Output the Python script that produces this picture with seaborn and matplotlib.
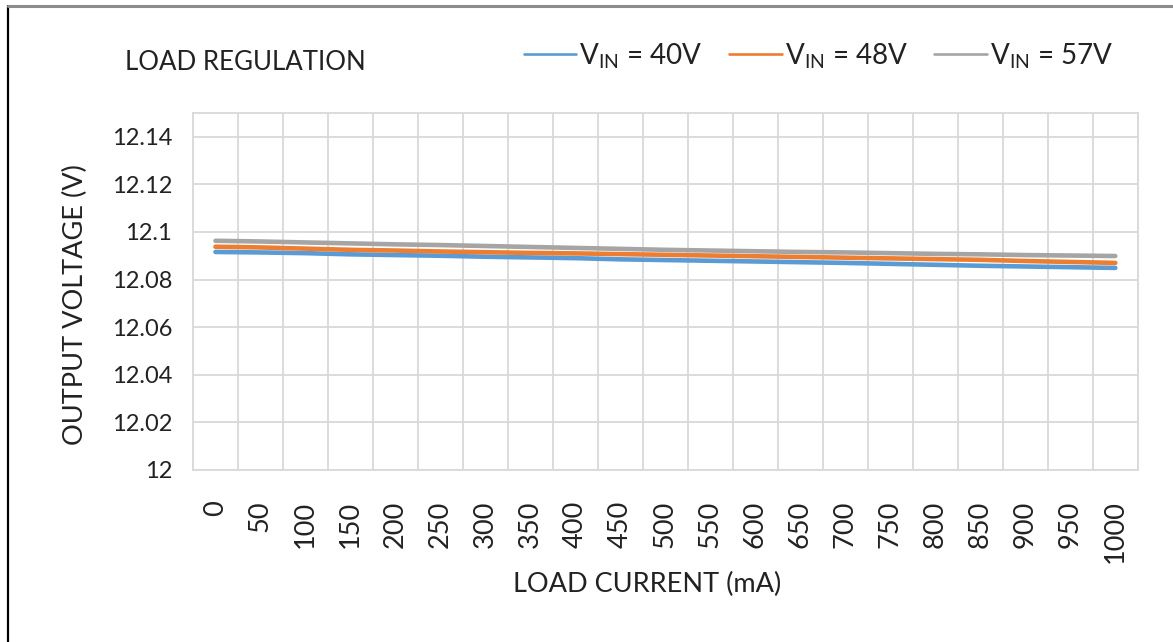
import numpy as np
import pandas as pd
import matplotlib
matplotlib.use("Agg")
import matplotlib.pyplot as plt
import seaborn as sns
from matplotlib.lines import Line2D

# data (mA, V)
load_current = [0, 50, 100, 150, 200, 250, 300, 350, 400, 450, 500,
                550, 600, 650, 700, 750, 800, 850, 900, 950, 1000]
vin_40 = [12.0916, 12.0914, 12.0911, 12.0906, 12.0903, 12.0900, 12.0896,
          12.0893, 12.0890, 12.0885, 12.0882, 12.0879, 12.0876, 12.0873,
          12.0870, 12.0866, 12.0862, 12.0858, 12.0855, 12.0852, 12.0849]
vin_48 = [12.0938, 12.0935, 12.0930, 12.0925, 12.0922, 12.0918, 12.0915,
          12.0912, 12.0910, 12.0907, 12.0904, 12.0901, 12.0898, 12.0895,
          12.0892, 12.0889, 12.0886, 12.0883, 12.0878, 12.0874, 12.0870]
vin_57 = [12.0963, 12.0960, 12.0956, 12.0952, 12.0948, 12.0945, 12.0941,
          12.0937, 12.0933, 12.0929, 12.0925, 12.0922, 12.0919, 12.0916,
          12.0914, 12.0911, 12.0908, 12.0906, 12.0903, 12.0901, 12.0899]
series_names = [r"V$_\mathregular{IN}$ = 40V", r"V$_\mathregular{IN}$ = 48V",
                r"V$_\mathregular{IN}$ = 57V"]
colors = ["#5B9BD5", "#ED7D31", "#A5A5A5"]

df = pd.DataFrame({
    "pos": list(range(len(load_current))) * 3,
    "v": vin_40 + vin_48 + vin_57,
    "series": np.repeat(series_names, len(load_current)),
})

sns.set_style("white")
plt.rcParams["font.family"] = ["Lato", "DejaVu Sans"]
plt.rcParams["mathtext.fontset"] = "custom"
plt.rcParams["mathtext.rm"] = "Lato"
text_c = "#222222"
grid_c = "#D9D9D9"

fig = plt.figure(figsize=(11.73, 6.42), dpi=100)
ax = fig.add_axes([0.1645, 0.268, 0.8055, 0.556])

sns.lineplot(data=df, x="pos", y="v", hue="series", palette=colors,
             linewidth=3.3, ax=ax, legend=False)

ax.set_xlim(-0.5, len(load_current) - 0.5)
ax.set_ylim(12, 12.15)
ax.set_yticks(np.arange(12, 12.141, 0.02))
ax.set_yticklabels(["12", "12.02", "12.04", "12.06", "12.08", "12.1", "12.12", "12.14"])
ax.set_xticks(range(len(load_current)))
ax.set_xticklabels([str(c) for c in load_current], rotation=90, va="top")
ax.set_xticks(np.arange(-0.5, len(load_current)), minor=True)
ax.tick_params(axis="both", which="both", length=0, colors=text_c)
ax.tick_params(axis="y", pad=15, labelsize=17)
ax.tick_params(axis="x", pad=22, labelsize=19.5)
ax.grid(False)
ax.grid(True, which="minor", axis="x", color=grid_c, linewidth=1.3)
ax.grid(True, which="major", axis="y", color=grid_c, linewidth=1.3)
ax.set_axisbelow(True)
for s in ax.spines.values():
    s.set_color(grid_c)
    s.set_linewidth(1.3)

ax.set_xlabel("LOAD CURRENT (mA)", fontsize=19.5, color=text_c)
ax.xaxis.set_label_coords((647 - 193) / 945, -(585 - 470) / 357)
ax.xaxis.label.set_va("center")
ax.set_ylabel("OUTPUT VOLTAGE (V)", fontsize=19.5, color=text_c)
ax.yaxis.set_label_coords((75 - 193) / 945, (470 - 305) / 357)
ax.yaxis.label.set_va("center")

fig.text(125 / 1173, 1 - 62 / 642, "LOAD REGULATION", fontsize=18.6,
         color=text_c, va="center", ha="left")

handles = [Line2D([], [], color=c, linewidth=1.9) for c in colors]
fig.legend(handles, series_names, loc="center right", ncol=3,
           bbox_to_anchor=(1127 / 1173, 1 - 56 / 642), frameon=False,
           fontsize=20, handlelength=1.9, handletextpad=0.1,
           columnspacing=0.95, labelcolor=text_c, borderpad=0)

# screenshot frame on the left and top
fig.add_artist(Line2D([8 / 1173, 8 / 1173], [0, 1 - 6 / 642], color="black",
                      linewidth=1.6, transform=fig.transFigure))
fig.add_artist(Line2D([8 / 1173, 1], [1 - 6 / 642, 1 - 6 / 642], color="#8C8C8C",
                      linewidth=2.2, transform=fig.transFigure))

fig.savefig("out.png", dpi=100)
